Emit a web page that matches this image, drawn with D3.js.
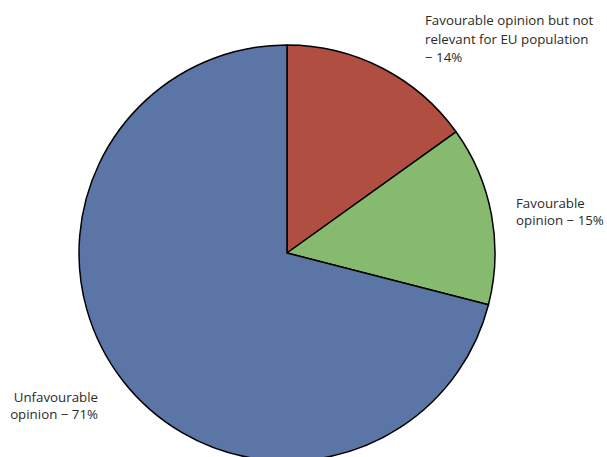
<!DOCTYPE html>
<html lang="en">
<head>
<meta charset="UTF-8">
<title>Opinion pie</title>
<script src="https://d3js.org/d3.v7.min.js"></script>
<style>
  body { margin: 0; background: #fff; overflow: hidden; }
  svg { display: block; font-family: 'Open Sans', sans-serif; }
  .lbl { font-size: 13.3px; fill: #2a2a2a; }
</style>
</head>
<body>
<div id="chart"></div>
<script>
  // slice shares as drawn, clockwise from 12 o'clock
  const categories = ["Favourable opinion but not relevant for EU population", "Favourable opinion", "Unfavourable opinion"];
  const values = [15.1, 13.9, 71.0];
  const colors = ["#b04e42", "#86ba6e", "#5b76a6"];
  // label text as printed
  const labelLines = [
    ["Favourable opinion but not", "relevant for EU population", "\u2212 14%"],
    ["Favourable", "opinion \u2212 15%"],
    ["Unfavourable", "opinion \u2212 71%"]
  ];

  const width = 607, height = 457;
  const cx = 287, cy = 253, r = 208;

  const svg = d3.select("#chart").append("svg")
    .attr("width", width)
    .attr("height", height);

  const pie = d3.pie().sort(null).value(d => d);
  const arc = d3.arc().innerRadius(0).outerRadius(r);

  const g = svg.append("g").attr("transform", `translate(${cx},${cy})`);

  g.selectAll("path")
    .data(pie(values))
    .enter()
    .append("path")
    .attr("d", arc)
    .attr("fill", (d, i) => colors[i])
    .attr("stroke", "#000")
    .attr("stroke-width", 1.5)
    .attr("stroke-linejoin", "round");

  // label placement
  const labelPos = [
    { x: 425, y: 25, anchor: "start", lh: 18.5 },
    { x: 516, y: 208, anchor: "start", lh: 17 },
    { x: 98, y: 402, anchor: "end", lh: 17 }
  ];

  labelLines.forEach((lines, i) => {
    const p = labelPos[i];
    const t = svg.append("text")
      .attr("class", "lbl")
      .attr("text-anchor", p.anchor);
    lines.forEach((s, j) => {
      t.append("tspan")
        .attr("x", p.x)
        .attr("y", p.y + j * p.lh)
        .text(s);
    });
  });
</script>
</body>
</html>
